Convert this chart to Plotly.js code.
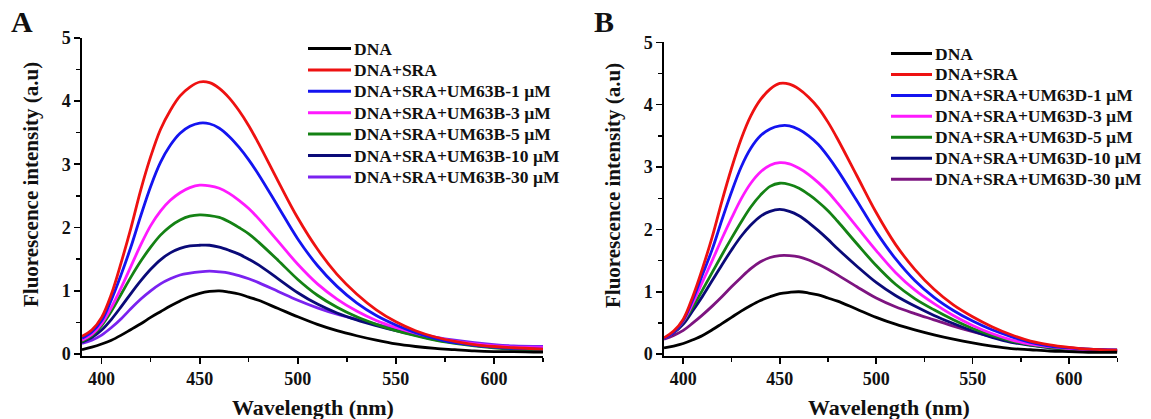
<!DOCTYPE html>
<html><head><meta charset="utf-8">
<script src="https://cdn.plot.ly/plotly-3.0.1.min.js"></script>
<style>html,body{margin:0;padding:0;background:#fff;} #chart{width:1151px;height:419px;}</style>
</head><body><div id="chart"></div>
<script>
// ---- data ----
const wavelength = [390,395,400,405,410,415,420,425,430,435,440,445,450,455,460,465,470,475,480,490,500,510,520,530,540,550,560,570,580,590,600,610,625];

const namesA = ["DNA","DNA+SRA","DNA+SRA+UM63B-1 µM","DNA+SRA+UM63B-3 µM","DNA+SRA+UM63B-5 µM","DNA+SRA+UM63B-10 µM","DNA+SRA+UM63B-30 µM"];
const namesB = ["DNA","DNA+SRA","DNA+SRA+UM63D-1 µM","DNA+SRA+UM63D-3 µM","DNA+SRA+UM63D-5 µM","DNA+SRA+UM63D-10 µM","DNA+SRA+UM63D-30 µM"];

const colorsA = ["#000000","#ee1111","#1414f0","#ff1aff","#148214","#0a0a78","#7a22f0"];
const colorsB = ["#000000","#ee1111","#1414f0","#ff1aff","#148214","#0a0a78","#7d1480"];

const A_DNA  = [0.07,0.11,0.16,0.22,0.30,0.39,0.48,0.58,0.67,0.76,0.84,0.91,0.96,0.99,1.00,0.98,0.95,0.90,0.85,0.72,0.59,0.47,0.37,0.29,0.22,0.16,0.12,0.09,0.07,0.05,0.04,0.04,0.03];
const A_SRA  = [0.28,0.38,0.58,0.95,1.45,2.00,2.60,3.12,3.55,3.85,4.08,4.22,4.30,4.29,4.20,4.05,3.85,3.61,3.33,2.73,2.15,1.66,1.26,0.95,0.70,0.51,0.37,0.27,0.20,0.15,0.12,0.10,0.08];
const A_UM1  = [0.25,0.35,0.53,0.86,1.26,1.70,2.19,2.65,3.03,3.30,3.49,3.60,3.65,3.64,3.57,3.44,3.27,3.07,2.84,2.33,1.82,1.40,1.07,0.81,0.61,0.46,0.34,0.25,0.18,0.14,0.11,0.09,0.08];
const A_UM3  = [0.22,0.31,0.48,0.74,1.05,1.39,1.73,2.03,2.26,2.43,2.55,2.63,2.67,2.66,2.62,2.54,2.43,2.30,2.14,1.78,1.42,1.11,0.87,0.68,0.53,0.42,0.33,0.26,0.20,0.16,0.13,0.11,0.10];
const A_UM5  = [0.20,0.29,0.45,0.68,0.95,1.22,1.47,1.69,1.88,2.02,2.12,2.18,2.20,2.19,2.16,2.09,2.00,1.90,1.77,1.48,1.18,0.93,0.74,0.59,0.47,0.37,0.29,0.22,0.17,0.13,0.10,0.08,0.07];
const A_UM10 = [0.19,0.26,0.38,0.55,0.75,0.96,1.16,1.34,1.49,1.60,1.67,1.71,1.72,1.72,1.69,1.64,1.58,1.50,1.41,1.19,0.97,0.79,0.65,0.54,0.45,0.37,0.30,0.23,0.18,0.14,0.11,0.09,0.08];
const A_UM30 = [0.17,0.22,0.30,0.42,0.56,0.72,0.87,1.00,1.11,1.19,1.25,1.28,1.30,1.31,1.30,1.28,1.24,1.19,1.13,0.99,0.85,0.73,0.63,0.55,0.47,0.40,0.33,0.27,0.22,0.18,0.15,0.13,0.12];

const B_DNA  = [0.10,0.13,0.17,0.23,0.30,0.39,0.49,0.59,0.69,0.78,0.86,0.92,0.97,0.99,1.00,0.98,0.95,0.90,0.85,0.72,0.59,0.48,0.39,0.31,0.24,0.18,0.13,0.09,0.07,0.05,0.04,0.03,0.03];
const B_SRA  = [0.26,0.37,0.56,0.93,1.38,1.88,2.45,2.98,3.45,3.82,4.08,4.25,4.34,4.33,4.25,4.12,3.95,3.72,3.45,2.86,2.27,1.76,1.36,1.04,0.79,0.60,0.44,0.31,0.21,0.15,0.11,0.08,0.06];
const B_UM1  = [0.25,0.35,0.54,0.88,1.28,1.68,2.15,2.60,3.00,3.30,3.50,3.61,3.66,3.66,3.60,3.50,3.36,3.17,2.95,2.46,1.96,1.53,1.18,0.91,0.70,0.53,0.39,0.28,0.19,0.13,0.10,0.08,0.06];
const B_UM3  = [0.25,0.35,0.53,0.82,1.16,1.50,1.85,2.18,2.49,2.74,2.92,3.03,3.07,3.05,2.98,2.88,2.75,2.60,2.42,2.04,1.66,1.31,1.03,0.81,0.62,0.46,0.33,0.23,0.16,0.12,0.09,0.07,0.06];
const B_UM5  = [0.25,0.35,0.52,0.76,1.03,1.31,1.59,1.86,2.12,2.36,2.55,2.69,2.74,2.72,2.66,2.56,2.44,2.30,2.13,1.77,1.42,1.12,0.89,0.71,0.55,0.41,0.30,0.21,0.15,0.11,0.08,0.07,0.05];
const B_UM10 = [0.25,0.34,0.48,0.70,0.93,1.18,1.43,1.67,1.89,2.07,2.21,2.29,2.32,2.29,2.22,2.11,1.98,1.84,1.69,1.41,1.15,0.94,0.77,0.62,0.49,0.37,0.27,0.19,0.14,0.10,0.08,0.06,0.05];
const B_UM30 = [0.24,0.30,0.38,0.50,0.63,0.77,0.92,1.08,1.23,1.37,1.48,1.55,1.58,1.58,1.56,1.51,1.44,1.36,1.27,1.08,0.90,0.76,0.65,0.55,0.45,0.36,0.28,0.21,0.16,0.12,0.10,0.08,0.07];

const xTicks = [400,450,500,550,600];
const yTicks = [0,1,2,3,4,5];

// ---- build ----
const seriesA = [A_DNA,A_SRA,A_UM1,A_UM3,A_UM5,A_UM10,A_UM30];
const seriesB = [B_DNA,B_SRA,B_UM1,B_UM3,B_UM5,B_UM10,B_UM30];

const W = 1151, H = 419;
const fx = p => p / W;
const fy = p => 1 - p / H;
const FONT = "Liberation Serif, 'Times New Roman', serif";

const traces = [];
function addPanel(series, names, colors, xa, ya) {
  for (let i = series.length - 1; i >= 0; i--) {
    traces.push({
      type: 'scatter', mode: 'lines', x: wavelength, y: series[i], name: names[i],
      xaxis: xa, yaxis: ya, showlegend: false,
      line: {color: colors[i], width: 2.8, shape: 'spline', smoothing: 1}
    });
  }
}
addPanel(seriesA, namesA, colorsA, 'x', 'y');
addPanel(seriesB, namesB, colorsB, 'x2', 'y2');

function xAxis(domain, anchor) {
  return {
    domain: domain, anchor: anchor, range: [390, 625],
    tickmode: 'array', tickvals: xTicks, ticktext: xTicks.map(String),
    showline: true, linecolor: '#000', linewidth: 1.6, mirror: false,
    ticks: 'outside', ticklen: 6, tickwidth: 1.6, tickcolor: '#000',
    minor: {ticks: 'outside', ticklen: 4, tickwidth: 1.4, tickcolor: '#000', dtick: 25, tick0: 400, showgrid: false},
    showgrid: false, zeroline: false,
    tickfont: {family: FONT, size: 18, weight: 'bold', color: '#111'}
  };
}
function yAxis(domain, anchor) {
  return {
    domain: domain, anchor: anchor, range: [-0.03, 5],
    tickmode: 'array', tickvals: yTicks, ticktext: yTicks.map(String),
    showline: true, linecolor: '#000', linewidth: 1.6, mirror: false,
    ticks: 'outside', ticklen: 6, tickwidth: 1.6, tickcolor: '#000',
    minor: {ticks: 'outside', ticklen: 4, tickwidth: 1.4, tickcolor: '#000', dtick: 0.5, tick0: 0, showgrid: false},
    showgrid: false, zeroline: false,
    tickfont: {family: FONT, size: 18, weight: 'bold', color: '#111'}
  };
}

const annotations = [];
const shapes = [];
function txt(text, x, y, size, opts) {
  annotations.push(Object.assign({
    text: text, x: fx(x), y: fy(y), xref: 'paper', yref: 'paper', showarrow: false,
    xanchor: 'center', yanchor: 'middle',
    font: {family: FONT, size: size, weight: 'bold', color: '#111'}
  }, opts || {}));
}

// panel letters
txt('A', 21.5, 22, 30);
txt('B', 604, 22, 30);
// axis titles
txt('Wavelength (nm)', 312.5, 407, 22);
txt('Wavelength (nm)', 889, 407, 22);
txt('Fluorescence intensity (a.u)', 31, 185, 21, {textangle: -90});
txt('Fluorescence intensity (a.u)', 613, 186, 21, {textangle: -90});

// legends
function legend(names, colors, x0, x1, xt, y0, step) {
  names.forEach((n, i) => {
    const y = y0 + i * step;
    shapes.push({type: 'line', xref: 'paper', yref: 'paper', x0: fx(x0), x1: fx(x1), y0: fy(y), y1: fy(y),
      line: {color: colors[i], width: 3}});
    txt(n, xt, y, 17.5, {xanchor: 'left'});
  });
}
legend(namesA, colorsA, 308, 351, 352, 48.5, 21.4);
legend(namesB, colorsB, 891, 932, 933, 53.5, 20.95);

const layout = {
  width: W, height: H,
  margin: {l: 0, r: 0, t: 0, b: 0},
  paper_bgcolor: '#ffffff', plot_bgcolor: '#ffffff',
  showlegend: false,
  xaxis: xAxis([fx(82), fx(543)], 'y'),
  yaxis: yAxis([fy(356), fy(37.7)], 'x'),
  xaxis2: xAxis([fx(664), fx(1117.3)], 'y2'),
  yaxis2: yAxis([fy(356), fy(42.3)], 'x2'),
  annotations: annotations,
  shapes: shapes,
  font: {family: FONT}
};

Plotly.newPlot('chart', traces, layout, {displayModeBar: false, staticPlot: true});
</script>
</body></html>
